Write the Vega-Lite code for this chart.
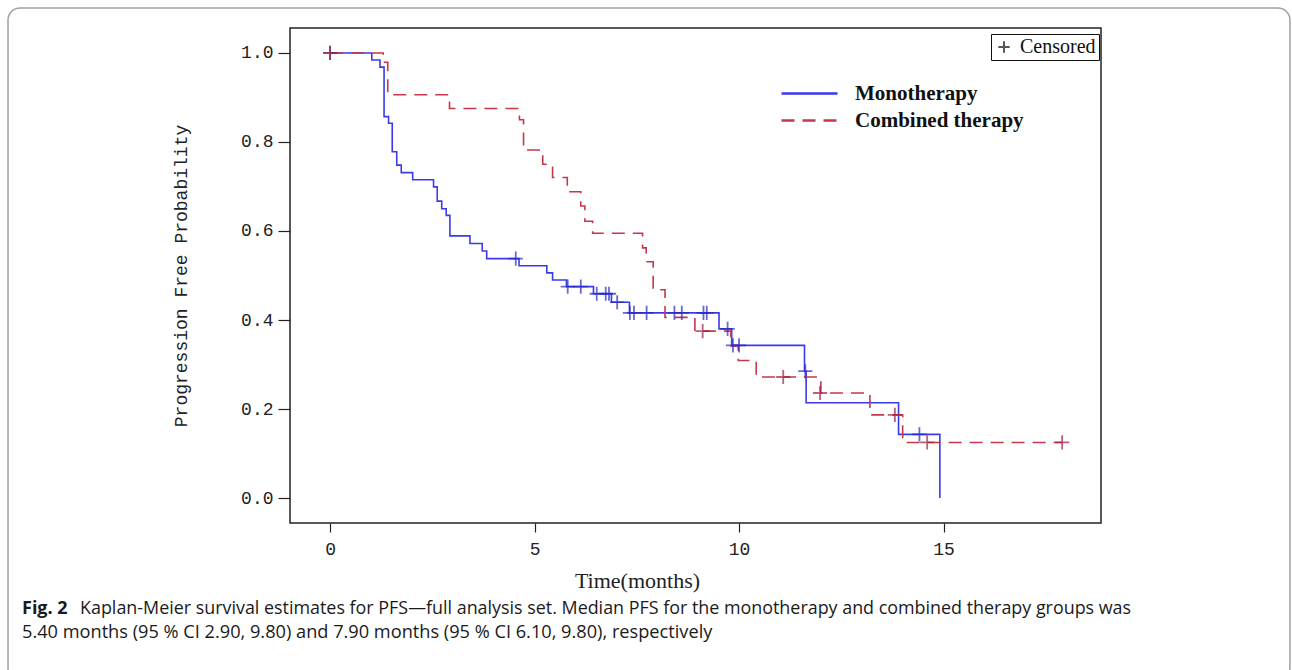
{
  "$schema": "https://vega.github.io/schema/vega-lite/v6.json",
  "autosize": "none",
  "width": 811,
  "height": 495,
  "padding": {"left": 290, "top": 28, "right": 191, "bottom": 147},
  "background": "white",
  "config": {
    "view": {"stroke": "#222", "strokeWidth": 1.5},
    "axis": {"grid": false, "domain": false, "tickColor": "#222", "labelColor": "#222", "titleColor": "#222"}
  },
  "datasets": {
    "curves": [
      {"group": "Monotherapy", "t": 0, "s": 1},
      {"group": "Monotherapy", "t": 1.02, "s": 0.984},
      {"group": "Monotherapy", "t": 1.22, "s": 0.968},
      {"group": "Monotherapy", "t": 1.32, "s": 0.857},
      {"group": "Monotherapy", "t": 1.43, "s": 0.842},
      {"group": "Monotherapy", "t": 1.52, "s": 0.778},
      {"group": "Monotherapy", "t": 1.63, "s": 0.748},
      {"group": "Monotherapy", "t": 1.74, "s": 0.731},
      {"group": "Monotherapy", "t": 2.02, "s": 0.715},
      {"group": "Monotherapy", "t": 2.53, "s": 0.699},
      {"group": "Monotherapy", "t": 2.62, "s": 0.667},
      {"group": "Monotherapy", "t": 2.73, "s": 0.65},
      {"group": "Monotherapy", "t": 2.84, "s": 0.635},
      {"group": "Monotherapy", "t": 2.93, "s": 0.589},
      {"group": "Monotherapy", "t": 3.42, "s": 0.572},
      {"group": "Monotherapy", "t": 3.72, "s": 0.555},
      {"group": "Monotherapy", "t": 3.83, "s": 0.538},
      {"group": "Monotherapy", "t": 4.62, "s": 0.522},
      {"group": "Monotherapy", "t": 5.3, "s": 0.506},
      {"group": "Monotherapy", "t": 5.44, "s": 0.49},
      {"group": "Monotherapy", "t": 5.78, "s": 0.475},
      {"group": "Monotherapy", "t": 6.44, "s": 0.459},
      {"group": "Monotherapy", "t": 6.88, "s": 0.44},
      {"group": "Monotherapy", "t": 7.32, "s": 0.416},
      {"group": "Monotherapy", "t": 9.51, "s": 0.38},
      {"group": "Monotherapy", "t": 9.82, "s": 0.343},
      {"group": "Monotherapy", "t": 11.6, "s": 0.285},
      {"group": "Monotherapy", "t": 11.64, "s": 0.214},
      {"group": "Monotherapy", "t": 13.9, "s": 0.143},
      {"group": "Monotherapy", "t": 14.91, "s": 0},
      {"group": "Combined therapy", "t": 0, "s": 1},
      {"group": "Combined therapy", "t": 1.3, "s": 0.979},
      {"group": "Combined therapy", "t": 1.41, "s": 0.906},
      {"group": "Combined therapy", "t": 2.92, "s": 0.875},
      {"group": "Combined therapy", "t": 4.63, "s": 0.85},
      {"group": "Combined therapy", "t": 4.73, "s": 0.782},
      {"group": "Combined therapy", "t": 5.2, "s": 0.75},
      {"group": "Combined therapy", "t": 5.44, "s": 0.72},
      {"group": "Combined therapy", "t": 5.8, "s": 0.688},
      {"group": "Combined therapy", "t": 6.13, "s": 0.656},
      {"group": "Combined therapy", "t": 6.23, "s": 0.622},
      {"group": "Combined therapy", "t": 6.42, "s": 0.595},
      {"group": "Combined therapy", "t": 7.64, "s": 0.562},
      {"group": "Combined therapy", "t": 7.73, "s": 0.531},
      {"group": "Combined therapy", "t": 7.9, "s": 0.468},
      {"group": "Combined therapy", "t": 8.19, "s": 0.406},
      {"group": "Combined therapy", "t": 8.92, "s": 0.375},
      {"group": "Combined therapy", "t": 9.8, "s": 0.342},
      {"group": "Combined therapy", "t": 9.98, "s": 0.309},
      {"group": "Combined therapy", "t": 10.42, "s": 0.272},
      {"group": "Combined therapy", "t": 12.0, "s": 0.236},
      {"group": "Combined therapy", "t": 13.2, "s": 0.187},
      {"group": "Combined therapy", "t": 14.0, "s": 0.125},
      {"group": "Combined therapy", "t": 17.9, "s": 0.125}
    ],
    "censored": [
      {"group": "Monotherapy", "kind": "Censored", "t": 0, "s": 1},
      {"group": "Monotherapy", "kind": "Censored", "t": 4.54, "s": 0.538},
      {"group": "Monotherapy", "kind": "Censored", "t": 5.81, "s": 0.475},
      {"group": "Monotherapy", "kind": "Censored", "t": 6.13, "s": 0.475},
      {"group": "Monotherapy", "kind": "Censored", "t": 6.52, "s": 0.459},
      {"group": "Monotherapy", "kind": "Censored", "t": 6.74, "s": 0.459},
      {"group": "Monotherapy", "kind": "Censored", "t": 6.82, "s": 0.459},
      {"group": "Monotherapy", "kind": "Censored", "t": 7.02, "s": 0.44},
      {"group": "Monotherapy", "kind": "Censored", "t": 7.33, "s": 0.416},
      {"group": "Monotherapy", "kind": "Censored", "t": 7.43, "s": 0.416},
      {"group": "Monotherapy", "kind": "Censored", "t": 7.74, "s": 0.416},
      {"group": "Monotherapy", "kind": "Censored", "t": 8.42, "s": 0.416},
      {"group": "Monotherapy", "kind": "Censored", "t": 8.6, "s": 0.416},
      {"group": "Monotherapy", "kind": "Censored", "t": 9.13, "s": 0.416},
      {"group": "Monotherapy", "kind": "Censored", "t": 9.21, "s": 0.416},
      {"group": "Monotherapy", "kind": "Censored", "t": 9.72, "s": 0.38},
      {"group": "Monotherapy", "kind": "Censored", "t": 9.85, "s": 0.343},
      {"group": "Monotherapy", "kind": "Censored", "t": 10.0, "s": 0.343},
      {"group": "Monotherapy", "kind": "Censored", "t": 11.62, "s": 0.285},
      {"group": "Monotherapy", "kind": "Censored", "t": 14.41, "s": 0.143},
      {"group": "Combined therapy", "kind": "Censored", "t": 0, "s": 1},
      {"group": "Combined therapy", "kind": "Censored", "t": 9.11, "s": 0.375},
      {"group": "Combined therapy", "kind": "Censored", "t": 11.08, "s": 0.272},
      {"group": "Combined therapy", "kind": "Censored", "t": 11.98, "s": 0.236},
      {"group": "Combined therapy", "kind": "Censored", "t": 13.81, "s": 0.187},
      {"group": "Combined therapy", "kind": "Censored", "t": 14.6, "s": 0.125},
      {"group": "Combined therapy", "kind": "Censored", "t": 17.9, "s": 0.125}
    ]
  },
  "layer": [
    {
      "data": {"values": [{"frame": "figure"}]},
      "mark": {"type": "rect", "fill": null, "stroke": "#a0a0a0", "strokeWidth": 1.5, "cornerRadius": 12, "clip": false},
      "encoding": {
        "x": {"datum": -7.875, "type": "quantitative"},
        "x2": {"datum": 23.47},
        "y": {"datum": 1.101, "type": "quantitative"},
        "y2": {"datum": -0.41}
      }
    },
    {
      "data": {"values": [{"caption": "Fig. 2"}]},
      "mark": {"type": "text", "align": "left", "baseline": "middle", "font": "Open Sans", "fontSize": 18, "fontWeight": "bold", "color": "#1a1a1a", "clip": false},
      "encoding": {
        "x": {"datum": -7.533, "type": "quantitative"},
        "y": {"datum": -0.249, "type": "quantitative"},
        "text": {"field": "caption"}
      }
    },
    {
      "data": {"values": [{"caption": "Kaplan-Meier survival estimates for PFS\u2014full analysis set. Median PFS for the monotherapy and combined therapy groups was"}]},
      "mark": {"type": "text", "align": "left", "baseline": "middle", "font": "Open Sans", "fontSize": 17.9, "color": "#1a1a1a", "clip": false},
      "encoding": {
        "x": {"datum": -6.114, "type": "quantitative"},
        "y": {"datum": -0.249, "type": "quantitative"},
        "text": {"field": "caption"}
      }
    },
    {
      "data": {"values": [{"caption": "5.40 months (95 % CI 2.90, 9.80) and 7.90 months (95 % CI 6.10, 9.80), respectively"}]},
      "mark": {"type": "text", "align": "left", "baseline": "middle", "font": "Open Sans", "fontSize": 18.2, "color": "#1a1a1a", "clip": false},
      "encoding": {
        "x": {"datum": -7.533, "type": "quantitative"},
        "y": {"datum": -0.304, "type": "quantitative"},
        "text": {"field": "caption"}
      }
    },
    {
      "data": {"name": "curves"},
      "mark": {"type": "line", "interpolate": "step-after", "strokeWidth": 1.6},
      "encoding": {
        "x": {
          "field": "t", "type": "quantitative",
          "scale": {"domain": [-0.98, 18.85], "nice": false, "zero": false},
          "axis": {
            "values": [0, 5, 10, 15], "title": "Time(months)",
            "labelFont": "Liberation Mono", "labelFontSize": 18, "labelPadding": 8, "tickSize": 9, "tickWidth": 1.2,
            "titleFont": "Liberation Serif", "titleFontSize": 22, "titleFontWeight": "normal", "titlePadding": 12, "titleX": 347
          }
        },
        "y": {
          "field": "s", "type": "quantitative",
          "scale": {"domain": [-0.056, 1.056], "nice": false, "zero": false},
          "axis": {
            "values": [0, 0.2, 0.4, 0.6, 0.8, 1.0], "format": ".1f", "title": "Progression Free Probability",
            "labelFont": "Liberation Mono", "labelFontSize": 18, "labelPadding": 5, "tickSize": 12, "tickWidth": 1.2,
            "titleFont": "Liberation Mono", "titleFontSize": 18, "titleFontWeight": "normal", "titlePadding": 50
          }
        },
        "color": {
          "field": "group", "type": "nominal",
          "scale": {"domain": ["Monotherapy", "Combined therapy"], "range": ["#3a3aec", "#c8364a"]},
          "legend": {
            "title": null, "orient": "none", "legendX": 504, "legendY": 50,
            "symbolType": "M-2,0L2,0", "symbolSize": 784, "symbolStrokeWidth": 2.5, "symbolFillColor": "transparent",
            "labelFont": "Liberation Serif", "labelFontSize": 21, "labelFontWeight": "bold", "labelColor": "#111",
            "labelOffset": 30, "labelLimit": 400, "rowPadding": 1,
            "encode": {"symbols": {"update": {"stroke": {"signal": "datum.value === 'Monotherapy' ? '#4a7fd4' : '#d42424'"}}}}
          }
        },
        "strokeDash": {
          "field": "group", "type": "nominal",
          "scale": {"domain": ["Monotherapy", "Combined therapy"], "range": [[1, 0], [13, 8]]}
        }
      }
    },
    {
      "data": {"name": "censored"},
      "mark": {"type": "point", "shape": "M-1,0L1,0M0,-1L0,1", "filled": false, "strokeWidth": 1.8, "size": 200},
      "encoding": {
        "x": {"field": "t", "type": "quantitative"},
        "y": {"field": "s", "type": "quantitative"},
        "stroke": {
          "field": "group", "type": "nominal",
          "scale": {"domain": ["Monotherapy", "Combined therapy"], "range": ["#2a2ac4", "#9e1f3c"]},
          "legend": null
        },
        "shape": {
          "field": "kind", "type": "nominal",
          "scale": {"domain": ["Censored"], "range": ["M-1,0L1,0M0,-1L0,1"]},
          "legend": {
            "title": null, "orient": "none", "legendX": 701, "legendY": 6,
            "strokeColor": "#111", "padding": 3, "cornerRadius": 0,
            "symbolStrokeColor": "#111", "symbolStrokeWidth": 2, "symbolSize": 130,
            "labelFont": "Liberation Serif", "labelFontSize": 20, "labelColor": "#111", "labelOffset": 6
          }
        }
      }
    }
  ]
}
